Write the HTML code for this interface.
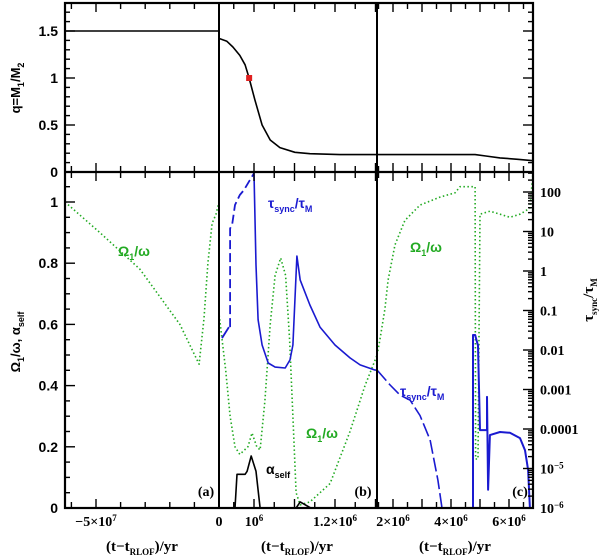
<!DOCTYPE html>
<html><head><meta charset="utf-8"><style>
body{margin:0;background:#fff}
svg{display:block;font-family:"Liberation Sans",sans-serif;font-weight:bold}
</style></head><body>
<svg id="c" width="600" height="556" viewBox="0 0 600 556"></svg>
<script>
// ---- data ----
// panel a time in 1e7 yr, panels b,c time in 1e6 yr
const qA_t=[-6.26,0];
const qA_v=[1.5,1.5];
const qB_t=[0.914,0.933,0.948,0.965,0.978,0.988,1.002,1.020,1.040,1.064,1.101,1.138,1.212,1.304];
const qB_v=[1.42,1.39,1.33,1.24,1.14,1.0,0.77,0.5,0.34,0.26,0.21,0.195,0.185,0.185];
const qC_t=[1.45,3.0,4.83,5.2,5.69,6.3,6.83];
const qC_v=[0.185,0.185,0.185,0.17,0.15,0.135,0.12];
const omA_t=[-6.26,-4.84,-3.21,-1.59,-0.81,-0.61,-0.45,-0.28,-0.12,0];
const omA_v=[1.0,0.9,0.78,0.6,0.47,0.62,0.8,0.93,0.96,1.0];
const omB_t=[0.914,0.93,0.941,0.953,0.965,0.985,0.995,1.007,1.015,1.027,1.04,1.052,1.066,1.078,1.088,1.096,1.104,1.114,1.138,1.188,1.237,1.274,1.304];
const omB_v=[0.63,0.45,0.3,0.2,0.175,0.2,0.245,0.2,0.19,0.35,0.6,0.76,0.817,0.76,0.55,0.3,0.05,0.01,0.02,0.08,0.25,0.4,0.5];
const omC_t=[1.45,1.55,1.72,1.83,2.07,2.41,2.93,3.62,4.14,4.31,4.83,4.85,4.93,5.0,5.34,5.69,6.03,6.38,6.55,6.72,6.83];
const omC_v=[0.5,0.55,0.65,0.745,0.86,0.94,0.99,1.016,1.03,1.05,1.05,0.16,0.16,0.96,0.97,0.96,0.95,0.96,0.97,0.98,1.1];
const taB1_t=[0.921,0.938];
const taB1_v=[0.02,0.038];
const taB2_t=[0.941,0.941,0.946,0.953,0.965,0.975,1.0];
const taB2_v=[0.038,12,14.6,47,84,112,300];
const taB3_t=[1.0,1.005,1.010,1.020,1.035,1.052,1.077,1.089,1.096,1.106,1.114,1.138,1.163,1.2,1.237,1.262,1.299,1.304];
const taB3_v=[300,1.42,0.058,0.0134,0.0047,0.0037,0.0035,0.0056,0.0134,2.4,0.59,0.138,0.038,0.0134,0.0063,0.0042,0.0031,0.0031];
const taC1_t=[1.45,1.90,2.24,2.59,2.93,3.28,3.55,3.69];
const taC1_v=[0.0031,0.0013,0.00072,0.00054,0.00022,5.3e-5,5.1e-6,1e-6];
const taC2_t=[4.76,4.76,4.83,4.93,5.0,5.24,5.24,5.28,5.34,5.69,6.03,6.38,6.55,6.66,6.72];
const taC2_v=[1e-6,0.024,0.024,0.013,9.4e-5,9.4e-5,6.5e-4,2.9e-6,7e-5,8.4e-5,8e-5,5.9e-5,2.9e-5,9.2e-6,1e-6];
const alB_t=[0.953,0.958,0.978,0.983,0.993,1.005,1.015,1.104,1.114,1.14];
const alB_v=[0,0.11,0.11,0.12,0.17,0.12,0,0,0.02,0];

// ---- axes ----
const L=65,R=533,T=3,M=172,B=508,XA=219,XB=377;
const xa=t=>XA+(t)/5*123;
const xb=t=>254+(t-1)*405;
const xc=t=>393+(t-2)*29;
const yq=v=>172-v*94;
const yl=v=>B-v*306;
const yr=v=>B-39.5*(Math.log10(v)+6);
const svg=document.getElementById('c');
const NS='http://www.w3.org/2000/svg';
function el(tag,attrs,parent){const e=document.createElementNS(NS,tag);for(const k in attrs)e.setAttribute(k,attrs[k]);(parent||svg).appendChild(e);return e;}
function clip(id,x0,x1,y0,y1){const cp=el('clipPath',{id:id});el('rect',{x:x0,y:y0,width:x1-x0,height:y1-y0},cp);}
clip('ca',L,XA,T,M);clip('cb',XA,XB,T,M);clip('cc',XB,R,T,M);
clip('da',L,XA,M,B);clip('db',XA,XB,M,B);clip('dc',XB,R,M,B);
function line(ts,vs,fx,fy,color,w,dash,cl,name){
  const d=ts.map((t,i)=>(i?'L':'M')+fx(t).toFixed(1)+','+fy(vs[i]).toFixed(1)).join('');
  const p=el('path',{d:d,fill:'none',stroke:color,'stroke-width':w,'stroke-linejoin':'round','clip-path':'url(#'+cl+')'});
  if(dash)p.setAttribute('stroke-dasharray',dash);
  
  
  return p;
}
const G='#22aa22',BL='#1a1ad0';
line(qA_t,qA_v,xa,yq,'#000',1.6,null,'ca','q-line-a');
line(qB_t,qB_v,xb,yq,'#000',1.6,null,'cb','q-line-b');
line(qC_t,qC_v,xc,yq,'#000',1.6,null,'cc','q-line-c');
const dot=el('rect',{x:xb(0.988)-3,y:yq(1.0)-3,width:6,height:6,fill:'#e02020'});


line(omA_t,omA_v,xa,yl,G,1.6,'1.5,2.5','da','omega-line-a');
line(omB_t,omB_v,xb,yl,G,1.6,'1.5,2.5','db','omega-line-b');
line(omC_t,omC_v,xc,yl,G,1.6,'1.5,2.5','dc','omega-line-c');
line(taB1_t,taB1_v,xb,yr,BL,1.8,null,'db','tau-line-b1');
line(taB2_t,taB2_v,xb,yr,BL,1.8,'9,4','db','tau-line-b2');
line(taB3_t,taB3_v,xb,yr,BL,1.6,null,'db','tau-line-b3');
line(taC1_t,taC1_v,xc,yr,BL,1.6,'14,4','dc','tau-line-c1');
line(taC2_t,taC2_v,xc,yr,BL,2,null,'dc','tau-line-c2');
line(alB_t,alB_v,xb,yl,'#000',1.6,null,'db','alpha-line-b');

// frame
el('rect',{x:L,y:T,width:R-L,height:B-T,fill:'none',stroke:'#000','stroke-width':2.2});
el('line',{x1:L,x2:R,y1:M,y2:M,stroke:'#000','stroke-width':2.2});
el('line',{x1:XA,x2:XA,y1:T,y2:B,stroke:'#000','stroke-width':2});
el('line',{x1:XB,x2:XB,y1:T,y2:B,stroke:'#000','stroke-width':2});
const tk={stroke:'#000','stroke-width':1.4};
function vt(x,len){[[T,T+len],[M-len,M+len],[B-len,B]].forEach(([a,b])=>el('line',Object.assign({x1:x,x2:x,y1:a,y2:b},tk)));}
for(let t=-6;t<=0;t++)vt(xa(t),t%5===0?9:6);
for(let t=0.95;t<1.31;t+=0.05)vt(xb(t),Math.abs(t*10-Math.round(t*10))<0.01?9:6);
for(let t=1.5;t<6.9;t+=0.5)vt(xc(t),Math.abs(t-Math.round(t))<0.01?9:6);
function ht(x,y,len,dir){el('line',Object.assign({x1:x,x2:x+dir*len,y1:y,y2:y},tk));}
for(let v=0;v<=1.8;v+=0.1){const y=yq(v);if(y<T+1)continue;const mj=Math.abs(v*2-Math.round(v*2))<0.01;ht(L,y,mj?10:5,1);ht(R,y,mj?10:5,-1);}
for(let v=0;v<=1.1;v+=0.05){const y=yl(v);if(y<M+1)continue;const mj=Math.abs(v*5-Math.round(v*5))<0.01;ht(L,y,mj?10:5,1);}
for(let e=-6;e<=2;e++)for(let k=1;k<10;k++){const y=yr(k*Math.pow(10,e));if(y<M+1)continue;ht(R,y,k===1?10:5,-1);}
function txt(s,x,y,attrs,name){const t=el('text',Object.assign({x:x,y:y,'font-size':13},attrs||{}));t.innerHTML=s;return t;}
const qTicks=['0','0.5','1','1.5'];
qTicks.forEach((s,i)=>txt(s,58,yq(i*0.5)+5,{'text-anchor':'end','font-size':14},'q-tick-label'));
const lTicks=['0','0.2','0.4','0.6','0.8','1'];
lTicks.forEach((s,i)=>txt(s,58,yl(i*0.2)+5,{'text-anchor':'end','font-size':14},'left-tick-label'));
const rTicks=['10<tspan dy="-5" font-size="9">−6</tspan>','10<tspan dy="-5" font-size="9">−5</tspan>','0.0001','0.001','0.01','0.1','1','10','100'];
rTicks.forEach((s,i)=>txt(s,540,yr(Math.pow(10,i-6))+5,{'font-family':'Liberation Serif, serif','font-size':14},'right-tick-label'));
const xt=[['−5×10<tspan dy="-5" font-size="9">7</tspan>',xa(-5)],['0',XA],['10<tspan dy="-5" font-size="9">6</tspan>',xb(1)],['1.2×10<tspan dy="-5" font-size="9">6</tspan>',xb(1.2)],['2×10<tspan dy="-5" font-size="9">6</tspan>',xc(2)],['4×10<tspan dy="-5" font-size="9">6</tspan>',xc(4)],['6×10<tspan dy="-5" font-size="9">6</tspan>',xc(6)]];
xt.forEach(([s,x])=>txt(s,x,526,{'text-anchor':'middle','font-family':'Liberation Serif, serif','font-size':14},'x-tick-label'));
const xl='(t−t<tspan dy="4" font-size="9">RLOF</tspan><tspan dy="-4">)/yr</tspan>';
[[142,'x-axis-title-a'],[297,'x-axis-title-b'],[455,'x-axis-title-c']].forEach(([x,n])=>txt(xl,x,551,{'text-anchor':'middle','font-family':'Liberation Serif, serif','font-size':15},n));
txt('q=M<tspan dy="4" font-size="9">1</tspan><tspan dy="-4">/M</tspan><tspan dy="4" font-size="9">2</tspan>',0,0,{transform:'translate(20,88) rotate(-90)','text-anchor':'middle'},'top-y-axis-title');
txt('Ω<tspan dy="4" font-size="9">1</tspan><tspan dy="-4">/ω,  α</tspan><tspan dy="4" font-size="9">self</tspan>',0,0,{transform:'translate(20,342) rotate(-90)','text-anchor':'middle'},'bottom-y-axis-title');
txt('τ<tspan dy="4" font-size="9">sync</tspan><tspan dy="-4">/τ</tspan><tspan dy="4" font-size="9">M</tspan>',0,0,{transform:'translate(593,300) rotate(-90)','text-anchor':'middle','font-family':'Liberation Serif, serif','font-size':15},'right-y-axis-title');
txt('(a)',206,496,{'text-anchor':'middle','font-family':'Liberation Serif, serif','font-size':14},'panel-label-a');
txt('(b)',363,496,{'text-anchor':'middle','font-family':'Liberation Serif, serif','font-size':14},'panel-label-b');
txt('(c)',520,496,{'text-anchor':'middle','font-family':'Liberation Serif, serif','font-size':14},'panel-label-c');
const sub=(a,b,c)=>a+'<tspan dy="4" font-size="9">'+b+'</tspan><tspan dy="-4">'+c+'</tspan>';
txt(sub('τ','sync','/τ')+'<tspan dy="4" font-size="9">M</tspan>',268,208,{fill:BL,'font-size':14},'tau-annotation-b');
txt(sub('τ','sync','/τ')+'<tspan dy="4" font-size="9">M</tspan>',400,396,{fill:BL,'font-size':14},'tau-annotation-c');
txt(sub('Ω','1','/ω'),118,256,{fill:G,'font-size':14},'omega-annotation-a');
txt(sub('Ω','1','/ω'),306,438,{fill:G,'font-size':14},'omega-annotation-b');
txt(sub('Ω','1','/ω'),410,252,{fill:G,'font-size':14},'omega-annotation-c');
txt(sub('α','self',''),266,474,{'font-size':14},'alpha-annotation');
</script>
</body></html>
